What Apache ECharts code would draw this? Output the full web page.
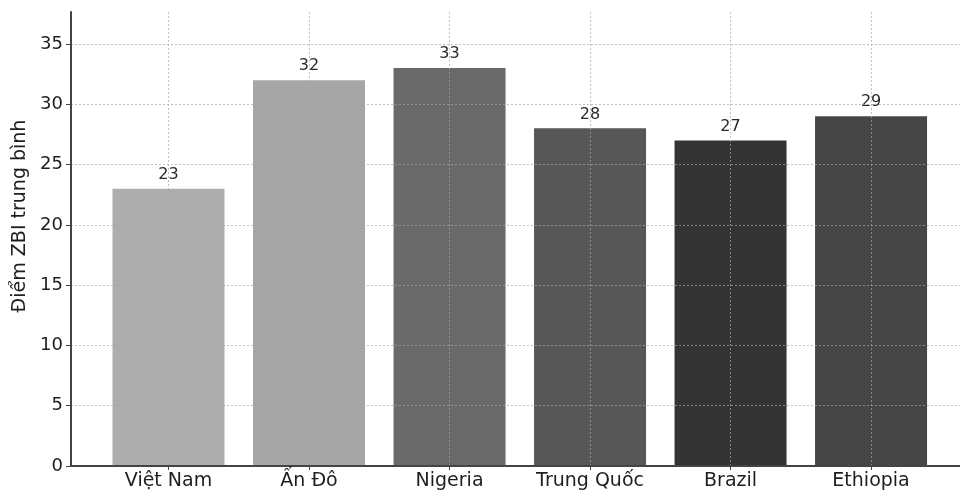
<!DOCTYPE html>
<html>
<head>
<meta charset="utf-8">
<script src="https://cdn.jsdelivr.net/npm/echarts@6/dist/echarts.min.js"></script>
<style>html,body{margin:0;padding:0;background:#fff}#c{width:960px;height:492px}</style>
</head>
<body>
<div id="c"></div>
<script>
const categories = ['Việt Nam', 'Ấn Đô', 'Nigeria', 'Trung Quốc', 'Brazil', 'Ethiopia'];
const values = [23, 32, 33, 28, 27, 29];
const barColors = ['#adadad', '#a6a6a6', '#696969', '#575757', '#333333', '#464646'];
const yTicks = [0, 5, 10, 15, 20, 25, 30, 35];
const yTitle = 'Điểm ZBI trung bình';

const catIdx = categories.map((c, i) => i);
const font = 'DejaVu Sans';
const gridLine = {show: true, lineStyle: {color: 'rgba(165,165,165,0.7)', type: [2, 2], width: 1}};
const chart = echarts.init(document.getElementById('c'), null, {renderer: 'canvas'});
chart.setOption({
  animation: false,
  backgroundColor: '#fff',
  grid: {left: 71, top: 12, width: 889, height: 454, containLabel: false},
  xAxis: {
    type: 'value', min: -0.694, max: 5.633, z: 5,
    axisLine: {show: true, onZero: false, lineStyle: {color: '#444', width: 2}},
    axisTick: {show: true, customValues: catIdx, length: 4, lineStyle: {color: '#444', width: 1}},
    axisLabel: {customValues: catIdx, formatter: v => categories[Math.round(v)], fontFamily: font, fontSize: 19, color: '#1e1e1e', margin: 6},
    splitLine: gridLine
  },
  yAxis: {
    type: 'value', min: 0, max: 37.65, z: 5,
    name: yTitle, nameLocation: 'middle', nameGap: 40,
    nameTextStyle: {fontFamily: font, fontSize: 19, color: '#1e1e1e', padding: [0, 0, 0, 46]},
    axisLine: {show: true, onZero: false, lineStyle: {color: '#444', width: 2}},
    axisTick: {show: true, customValues: yTicks, length: 5, lineStyle: {color: '#444', width: 1}},
    axisLabel: {customValues: yTicks, fontFamily: font, fontSize: 18, color: '#1e1e1e', margin: 8},
    splitLine: gridLine
  },
  series: [{
    type: 'bar', barWidth: 112,
    data: values.map((v, i) => ({value: [i, v], itemStyle: {color: barColors[i]}})),
    label: {show: true, position: 'top', distance: 6, fontFamily: font, fontSize: 16, color: '#2a2a2a', formatter: p => p.value[1]}
  }]
});
</script>
</body>
</html>
